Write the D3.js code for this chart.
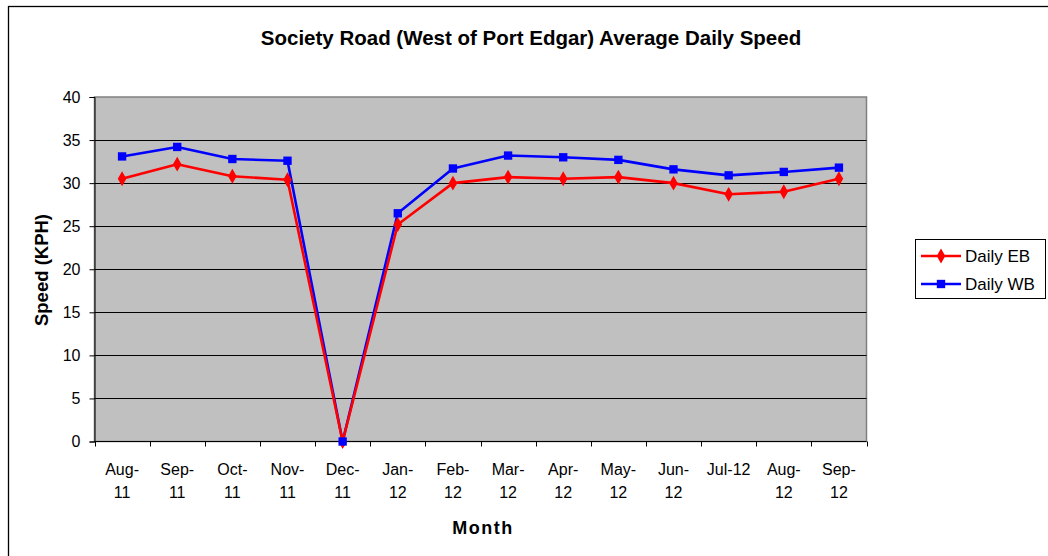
<!DOCTYPE html>
<html>
<head>
<meta charset="utf-8">
<script src="https://cdn.jsdelivr.net/npm/d3@7/dist/d3.min.js"></script>
<style>
  html, body { margin: 0; padding: 0; background: #fff; }
  svg { display: block; font-family: Arial, "Liberation Sans", sans-serif; }
</style>
</head>
<body>
<svg id="chart" width="1048" height="556"></svg>
<script>
// Monthly categories (label lines as shown under the axis)
const months = ["Aug-11","Sep-11","Oct-11","Nov-11","Dec-11","Jan-12","Feb-12","Mar-12","Apr-12","May-12","Jun-12","Jul-12","Aug-12","Sep-12"];
const monthLabels = [["Aug-","11"],["Sep-","11"],["Oct-","11"],["Nov-","11"],["Dec-","11"],["Jan-","12"],["Feb-","12"],["Mar-","12"],["Apr-","12"],["May-","12"],["Jun-","12"],["Jul-12"],["Aug-","12"],["Sep-","12"]];

// Average daily speed (KPH)
const dailyEB = [30.5, 32.2, 30.8, 30.4, 0, 25.2, 30.0, 30.7, 30.5, 30.7, 30.0, 28.7, 29.0, 30.5];
const dailyWB = [33.1, 34.2, 32.8, 32.6, 0, 26.5, 31.7, 33.2, 33.0, 32.7, 31.6, 30.9, 31.3, 31.8];

const yTicks = [0, 5, 10, 15, 20, 25, 30, 35, 40];

const svg = d3.select("#chart");
const plot = { left: 94.5, right: 866.5, top: 97, bottom: 441.5 };

// Outer chart frame
svg.append("rect")
  .attr("x", 8.5).attr("y", 6.5)
  .attr("width", 1100).attr("height", 600)
  .attr("fill", "#fff").attr("stroke", "#000").attr("stroke-width", 1.3);

const x = d3.scaleBand().domain(months).range([plot.left, plot.right]).padding(0);
const y = d3.scaleLinear().domain([0, 40]).range([plot.bottom, plot.top]);

// Plot area background
svg.append("rect")
  .attr("x", plot.left).attr("y", plot.top)
  .attr("width", plot.right - plot.left).attr("height", plot.bottom - plot.top)
  .attr("fill", "#c0c0c0").attr("stroke", "#808080").attr("stroke-width", 1.5);

// Horizontal gridlines
svg.append("g").selectAll("line")
  .data(yTicks.filter(d => d > 0 && d < 40))
  .join("line")
  .attr("x1", plot.left).attr("x2", plot.right)
  .attr("y1", d => Math.round(y(d)) + 0.5).attr("y2", d => Math.round(y(d)) + 0.5)
  .attr("stroke", "#000").attr("stroke-width", 1);

// Y axis
const yAxis = svg.append("g")
  .attr("transform", `translate(${plot.left},0)`)
  .call(d3.axisLeft(y).tickValues(yTicks).tickSize(5).tickPadding(9));
yAxis.select(".domain").attr("stroke", "#000").attr("stroke-width", 1);
yAxis.selectAll(".tick line").attr("stroke", "#000");
yAxis.selectAll("text").attr("font-size", 16).attr("fill", "#000")
  .attr("font-family", "Arial, 'Liberation Sans', sans-serif");

// X axis (ticks between categories)
const bounds = months.map(m => x(m)).concat([plot.right]);
svg.append("line")
  .attr("x1", plot.left).attr("x2", plot.right)
  .attr("y1", plot.bottom).attr("y2", plot.bottom)
  .attr("stroke", "#000").attr("stroke-width", 1.2);
svg.append("g").selectAll("line")
  .data(bounds)
  .join("line")
  .attr("x1", d => Math.round(d) + 0.5).attr("x2", d => Math.round(d) + 0.5)
  .attr("y1", plot.bottom).attr("y2", plot.bottom + 5)
  .attr("stroke", "#000");

const xl = svg.append("g").selectAll("text")
  .data(months)
  .join("text")
  .attr("x", d => x(d) + x.bandwidth() / 2)
  .attr("y", 475)
  .attr("text-anchor", "middle")
  .attr("font-size", 16)
  .attr("fill", "#000");
xl.each(function(d, i) {
  const t = d3.select(this);
  monthLabels[i].forEach((line, j) => {
    t.append("tspan")
      .attr("x", x(d) + x.bandwidth() / 2)
      .attr("dy", j === 0 ? 0 : 23)
      .text(line);
  });
});

// Title and axis titles
svg.append("text")
  .attr("x", 531).attr("y", 45)
  .attr("text-anchor", "middle")
  .attr("font-size", 20.5).attr("font-weight", "bold")
  .text("Society Road (West of Port Edgar) Average Daily Speed");

svg.append("text")
  .attr("transform", "translate(48,270) rotate(-90)")
  .attr("text-anchor", "middle")
  .attr("font-size", 18.5).attr("font-weight", "bold")
  .text("Speed (KPH)");

svg.append("text")
  .attr("x", 483).attr("y", 534)
  .attr("text-anchor", "middle")
  .attr("font-size", 18).attr("font-weight", "bold")
  .attr("letter-spacing", 1.5)
  .text("Month");

// Series
const cx = d => x(d) + x.bandwidth() / 2;
const line = d3.line().x((d, i) => cx(months[i])).y(d => y(d));

const series = [
  { name: "Daily EB", values: dailyEB, color: "#ff0000", symbol: d3.symbolDiamond, size: 64 },
  { name: "Daily WB", values: dailyWB, color: "#0000ff", symbol: d3.symbolSquare, size: 70 }
];

// Lines: WB underneath, EB on top; markers drawn after so WB squares stay visible
[series[1], series[0]].forEach(s => {
  svg.append("path")
    .datum(s.values)
    .attr("d", line)
    .attr("fill", "none")
    .attr("stroke", s.color)
    .attr("stroke-width", 2.6)
    .attr("stroke-linejoin", "round");
});
[series[0], series[1]].forEach(s => {
  svg.append("g").selectAll("path")
    .data(s.values)
    .join("path")
    .attr("transform", (d, i) => `translate(${cx(months[i])},${y(d)})`)
    .attr("d", d3.symbol().type(s.symbol).size(s.size))
    .attr("fill", s.color);
});

// Legend
const lg = svg.append("g");
lg.append("rect")
  .attr("x", 915.5).attr("y", 239.5).attr("width", 130).attr("height", 59)
  .attr("fill", "#fff").attr("stroke", "#000").attr("stroke-width", 1);
series.forEach((s, i) => {
  const ly = 256 + i * 28;
  lg.append("line")
    .attr("x1", 921).attr("x2", 961).attr("y1", ly).attr("y2", ly)
    .attr("stroke", s.color).attr("stroke-width", 2.6);
  lg.append("path")
    .attr("transform", `translate(941,${ly})`)
    .attr("d", d3.symbol().type(s.symbol).size(s.size))
    .attr("fill", s.color);
  lg.append("text")
    .attr("x", 965).attr("y", ly + 6)
    .attr("font-size", 17)
    .text(s.name);
});
</script>
</body>
</html>
